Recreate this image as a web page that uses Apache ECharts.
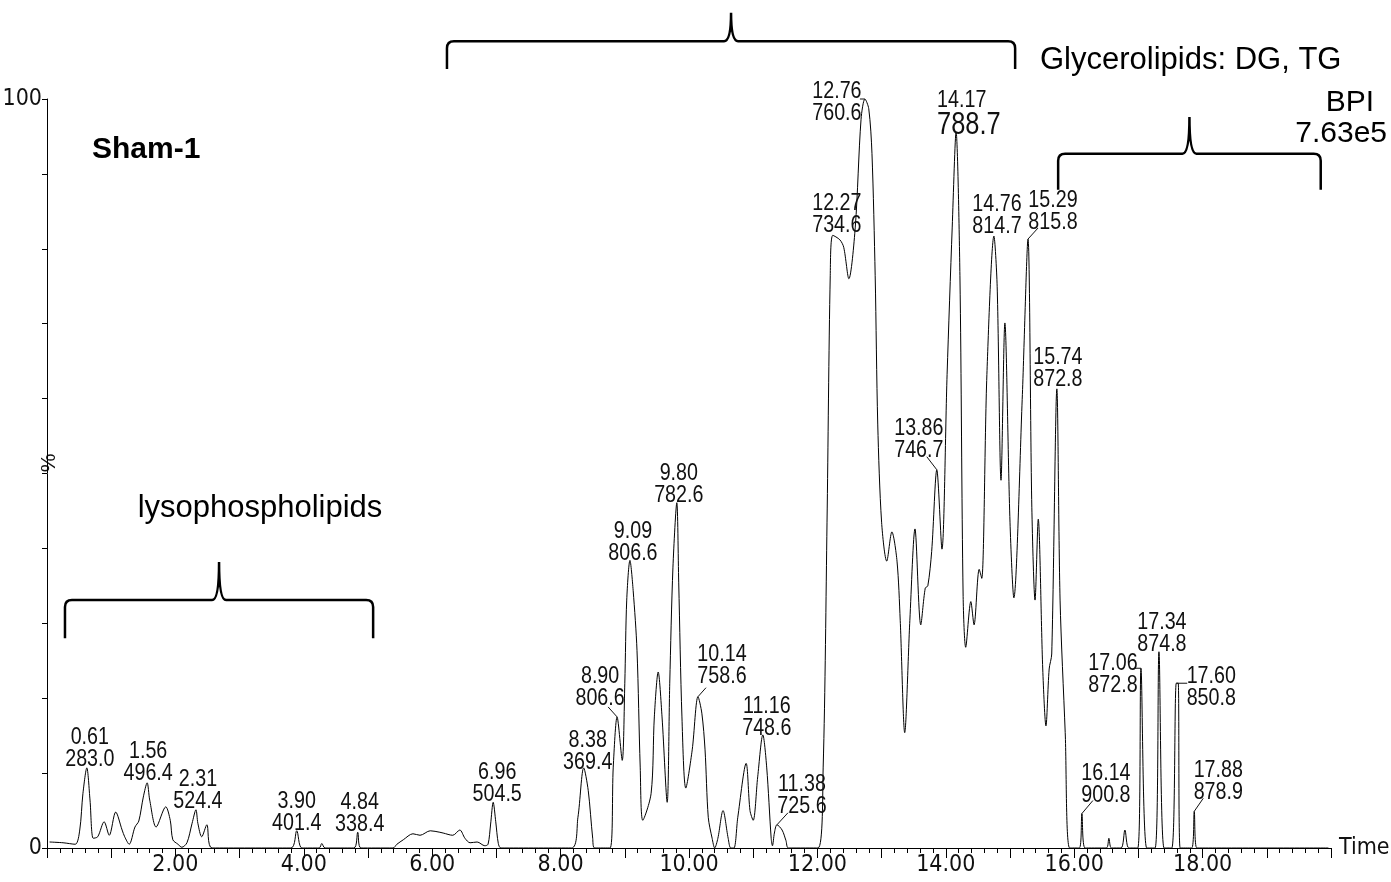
<!DOCTYPE html>
<html>
<head>
<meta charset="utf-8">
<title>Sham-1 BPI chromatogram</title>
<script src="https://cdn.jsdelivr.net/npm/echarts@6/dist/echarts.min.js"></script>
<style>
  html, body { margin: 0; padding: 0; background: #fff; }
  #chart { width: 1391px; height: 882px; }
</style>
</head>
<body>
<div id="chart"></div>
<script>
const traceTime = [
  0.04, 0.25, 0.44, 0.51, 0.56, 0.62, 0.67, 0.72, 0.79, 0.89, 0.97, 1.07, 1.17, 1.21, 1.28, 1.37, 1.43, 1.50, 1.56, 1.60,
  1.70, 1.85, 1.92, 1.96, 2.04, 2.10, 2.18, 2.26, 2.32, 2.35, 2.41, 2.49, 2.57,
  3.80, 3.89, 3.97, 4.24, 4.28, 4.33, 4.78, 4.84, 4.89,
  5.39, 5.45, 5.55, 5.70, 5.81, 5.97, 6.12, 6.17, 6.32, 6.43, 6.51, 6.59, 6.70, 6.82, 6.87, 6.91, 6.95, 6.99, 7.03, 7.07,
  8.17, 8.27, 8.36, 8.43, 8.50, 8.53,
  8.77, 8.82, 8.88, 8.96, 9.00, 9.03, 9.08, 9.13, 9.19, 9.24, 9.28, 9.41, 9.46, 9.52, 9.58, 9.66, 9.70, 9.75, 9.81, 9.84,
  9.89, 9.95, 10.05, 10.14, 10.20, 10.25, 10.30, 10.36, 10.40,
  10.45, 10.53, 10.61, 10.65, 10.70, 10.76, 10.89, 10.95, 11.00, 11.07, 11.15, 11.21, 11.28, 11.30, 11.33, 11.37, 11.45, 11.51, 11.55,
  12.01, 12.09, 12.15, 12.20, 12.24, 12.35, 12.41, 12.49, 12.59, 12.68, 12.74, 12.80, 12.85, 12.90, 12.94, 13.00, 13.08, 13.16, 13.24, 13.29,
  13.36, 13.44, 13.52, 13.61, 13.68, 13.72, 13.78, 13.86, 13.94, 14.02, 14.10, 14.16, 14.22, 14.27, 14.31, 14.39, 14.44, 14.52, 14.56, 14.64,
  14.75, 14.80, 14.86, 14.92, 15.00, 15.06, 15.19, 15.28, 15.34, 15.39, 15.44, 15.51, 15.56, 15.61, 15.65, 15.73, 15.78, 15.86, 15.93,
  16.08, 16.12, 16.17, 16.50, 16.54, 16.58, 16.73, 16.79, 16.85, 16.99, 17.04, 17.13, 17.26, 17.32, 17.40, 17.52, 17.59, 17.62, 17.65,
  17.83, 17.87, 17.91, 19.96
];

const traceIntensity = [
  0.8, 0.7, 0.5, 2.4, 7.3, 10.7, 6.4, 1.3, 1.5, 3.5, 1.7, 4.8, 2.4, 1.5, 0.5, 2.8, 3.6, 6.8, 8.7, 6.4,
  2.8, 5.5, 3.7, 1.1, 0.5, 0.1, 0.7, 3.3, 5.1, 3.3, 1.5, 3.1, 0,
  0, 2.3, 0, 0, 0.6, 0, 0, 2.1, 0,
  0, 0.5, 1.1, 1.9, 1.7, 2.3, 2.1, 2.0, 1.7, 2.4, 1.3, 0.7, 0.8, 0.3, 0.5, 3.2, 6.1, 3.5, 0.6, 0,
  0, 4.1, 10.7, 7.7, 1.3, 0,
  0, 10.8, 17.5, 11.7, 22.0, 33.1, 38.4, 34.4, 26.4, 10.8, 3.7, 7.3, 17.5, 23.5, 17.5, 6.1, 22.0, 37.5, 46.1, 35.4,
  17.5, 8.0, 13.1, 20.2, 18.0, 13.1, 4.1, 1.3, 0,
  1.3, 5.0, 1.3, 0, 0, 4.1, 11.3, 5.0, 3.7, 9.5, 15.1, 10.8, 1.3, 0.3, 2.0, 3.1, 2.4, 1.0, 0,
  0, 10.8, 43.5, 76.4, 81.8, 81.2, 80.2, 76.0, 82.9, 97.3, 100, 98.7, 92.7, 76.4, 56.6, 43.5, 38.3, 42.2, 38.3, 30.4,
  15.4, 30.4, 42.6, 29.8, 34.7, 35.0, 39.6, 50.5, 39.9, 63.2, 82.9, 95.6, 76.4, 33.6, 26.8, 32.9, 29.8, 37.2, 36.0, 63.2,
  81.7, 75.0, 49.1, 70.1, 43.5, 33.4, 59.9, 81.3, 45.5, 33.1, 43.9, 23.9, 16.3, 23.9, 25.9, 61.3, 33.1, 15.4, 0,
  0, 4.6, 0, 0, 1.3, 0, 0, 2.4, 0, 0, 24.0, 0, 0, 26.2, 0, 0, 22.0, 22.0, 0,
  0, 4.9, 0, 0
];

const peakRT = ['0.61', '1.56', '2.31', '3.90', '4.84', '6.96', '8.38', '8.90', '9.09', '9.80', '10.14', '11.16', '11.38',
  '12.27', '12.76', '13.86', '14.17', '14.76', '15.29', '15.74', '16.14', '17.06', '17.34', '17.60', '17.88'];
const peakMZ = ['283.0', '496.4', '524.4', '401.4', '338.4', '504.5', '369.4', '806.6', '806.6', '782.6', '758.6', '748.6', '725.6',
  '734.6', '760.6', '746.7', '788.7', '814.7', '815.8', '872.8', '900.8', '872.8', '874.8', '850.8', '878.9'];

const timeLabels = [2, 4, 6, 8, 10, 12, 14, 16, 18];
const percentLabels = [0, 100];

// label placement relative to the apex, in pixels
const peakLabelLayout = [
  { dx: 3, dy: 3 },
  { dx: 1, dy: 2 },
  { dx: 2, dy: 3 },
  { dx: 0, dy: 4 },
  { dx: 2, dy: 3 },
  { dx: 4, dy: 3 },
  { dx: 4, dy: 6 },
  { dx: -17, dy: -8, leader: [-9, -10] },
  { dx: 3, dy: 4 },
  { dx: 2, dy: 4 },
  { dx: 24, dy: -9, leader: [8, -9] },
  { dx: 4, dy: 4 },
  { dx: 25, dy: -7, leader: [11, -12] },
  { dx: 4, dy: 1 },
  { dx: -28, dy: 25, leader: [-5, 0] },
  { dx: -18, dy: -8, leader: [-10, -13] },
  { dx: -19, dy: 7, align: 'left', big: true },
  { dx: 3, dy: 1 },
  { dx: 25, dy: -6, leader: [10, -11] },
  { dx: 1, dy: 2 },
  { dx: 24, dy: -7, leader: [11, -13] },
  { dx: -28, dy: 28, leader: [-6, 0] },
  { dx: 3, dy: 4 },
  { dx: 35, dy: 26, leader: [11, 0] },
  { dx: 24, dy: -8, leader: [9, -13] }
];

// brace spans in time units, heights (end, bar, tip) in % units
const braceRanges = [[0.28, 5.08], [6.23, 15.08], [15.75, 19.84]];
const braceHeights = [[28.0, 33.1, 38.2], [104.0, 107.7, 111.5], [87.9, 92.7, 97.6]];

const FONT_NARROW = "'Liberation Sans Narrow', 'DejaVu Sans Condensed', sans-serif";
const FONT_SANS = "'Liberation Sans', Arial, sans-serif";
const NARROW = 0.82;
const INK = '#111';

function findApex(rt) {
  let best = [rt, 0];
  traceTime.forEach((t, i) => {
    if (Math.abs(t - rt) <= 0.06 && traceIntensity[i] > best[1]) {
      best = [t, traceIntensity[i]];
    }
  });
  return best;
}

function renderPeakLabel(params, api) {
  const i = params.dataIndex;
  const lay = peakLabelLayout[i];
  const apex = api.coord([api.value(0), api.value(1)]);
  const second = lay.big ? '{b|' + peakMZ[i] + '}' : '{a|' + peakMZ[i] + '}';
  const children = [{
    type: 'text',
    x: apex[0] + lay.dx,
    y: apex[1] + lay.dy,
    scaleX: NARROW,
    style: {
      text: '{a|' + peakRT[i] + '}\n' + second,
      align: lay.align || 'center',
      verticalAlign: 'bottom',
      fill: INK,
      rich: {
        a: { fontSize: 24, lineHeight: 22, fontFamily: FONT_SANS, fill: INK },
        b: { fontSize: 31, lineHeight: 28, fontFamily: FONT_SANS, fill: INK }
      }
    }
  }];
  if (lay.leader) {
    children.push({
      type: 'line',
      shape: { x1: apex[0], y1: apex[1], x2: apex[0] + lay.leader[0], y2: apex[1] + lay.leader[1] },
      style: { stroke: INK, lineWidth: 1 }
    });
  }
  return { type: 'group', children };
}

function renderBrace(params, api) {
  const i = params.dataIndex;
  const range = braceRanges[i];
  const heights = braceHeights[i];
  const p0 = api.coord([range[0], heights[0]]);
  const p1 = api.coord([range[1], heights[0]]);
  const yBar = api.coord([range[0], heights[1]])[1];
  const yTip = api.coord([range[0], heights[2]])[1];
  const x0 = p0[0];
  const x1 = p1[0];
  const yEnd = p0[1];
  const xm = (x0 + x1) / 2;
  const r = 7;
  const t = 7;
  const d = [
    'M', x0, yEnd, 'L', x0, yBar + r, 'Q', x0, yBar, x0 + r, yBar,
    'L', xm - t, yBar, 'Q', xm, yBar, xm, yTip, 'Q', xm, yBar, xm + t, yBar,
    'L', x1 - r, yBar, 'Q', x1, yBar, x1, yBar + r, 'L', x1, yEnd
  ].join(' ');
  return {
    type: 'path',
    shape: { pathData: d },
    style: { stroke: '#000', lineWidth: 2.5, fill: 'none' }
  };
}

function note(text, x, y, size, align, weight) {
  return {
    type: 'text',
    x,
    y,
    silent: true,
    style: {
      text,
      align,
      verticalAlign: 'middle',
      fill: '#000',
      fontSize: size,
      fontWeight: weight || 'normal',
      fontFamily: FONT_SANS
    }
  };
}

const chart = echarts.init(document.getElementById('chart'));

chart.setOption({
  animation: false,
  backgroundColor: '#fff',
  grid: { left: 47, right: 60, top: 99, bottom: 34, outerBoundsMode: 'none' },
  xAxis: {
    type: 'value',
    min: 0,
    max: 20,
    interval: 1,
    name: 'Time',
    nameLocation: 'end',
    nameGap: 8,
    nameTextStyle: { fontSize: 23, fontFamily: FONT_NARROW, color: INK, verticalAlign: 'middle' },
    axisLine: { show: true, lineStyle: { color: '#000', width: 1 } },
    axisTick: { show: true, length: 10, lineStyle: { color: '#000', width: 1 } },
    minorTick: { show: true, splitNumber: 5, length: 5, lineStyle: { color: '#000', width: 1 } },
    axisLabel: {
      fontSize: 23,
      fontFamily: FONT_NARROW,
      color: INK,
      margin: 6,
      formatter: (v) => (timeLabels.includes(v) ? v.toFixed(2) : '')
    },
    splitLine: { show: false },
    minorSplitLine: { show: false }
  },
  yAxis: {
    type: 'value',
    min: 0,
    max: 100,
    interval: 10,
    axisLine: { show: true, lineStyle: { color: '#000', width: 1 } },
    axisTick: { show: true, length: 5, lineStyle: { color: '#000', width: 1 } },
    axisLabel: {
      fontSize: 23,
      fontFamily: FONT_NARROW,
      color: INK,
      margin: 5,
      formatter: (v) => (percentLabels.includes(v) ? String(v) : '')
    },
    splitLine: { show: false }
  },
  graphic: [
    note('Sham-1', 92, 150, 30, 'left', 'bold'),
    note('lysophospholipids', 260, 508, 31, 'center'),
    note('Glycerolipids: DG, TG', 1040, 60, 31, 'left'),
    note('BPI', 1374, 103, 30, 'right'),
    note('7.63e5', 1387, 134, 30, 'right'),
    {
      type: 'text',
      x: 49,
      y: 463,
      rotation: Math.PI / 2,
      silent: true,
      style: { text: '%', align: 'center', verticalAlign: 'middle', fill: INK, fontSize: 21, fontFamily: FONT_SANS }
    }
  ],
  series: [
    {
      type: 'line',
      data: traceTime.map((t, i) => [t, traceIntensity[i]]),
      showSymbol: false,
      symbol: 'none',
      smooth: 0.3,
      silent: true,
      lineStyle: { color: '#000', width: 1 },
      z: 2
    },
    {
      type: 'custom',
      data: peakRT.map((rt) => findApex(Number(rt))),
      renderItem: renderPeakLabel,
      clip: false,
      silent: true,
      z: 3
    },
    {
      type: 'custom',
      data: braceRanges.map((r) => [r[0], 0]),
      renderItem: renderBrace,
      clip: false,
      silent: true,
      z: 3
    }
  ]
});

window.addEventListener('resize', () => chart.resize());
</script>
</body>
</html>
